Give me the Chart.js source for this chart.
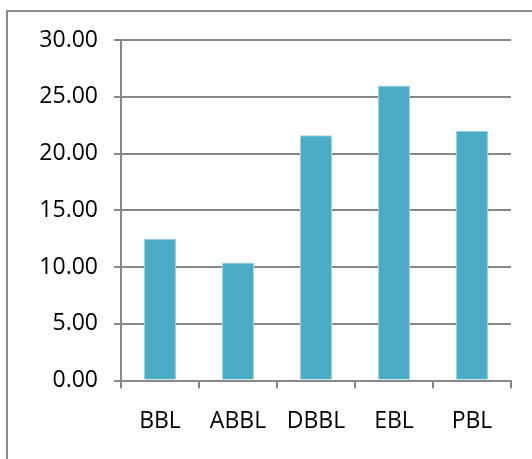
<!DOCTYPE html>
<html>
<head>
<meta charset="utf-8">
<script src="https://cdn.jsdelivr.net/npm/chart.js@4/dist/chart.umd.min.js"></script>
<style>
  html, body { margin: 0; padding: 0; background: #fff; overflow: hidden; }
  #wrap { width: 532px; height: 459px; position: relative; }
</style>
</head>
<body>
<div id="wrap"><canvas id="myChart" width="532" height="459"></canvas></div>
<script>
// chart data
const categories = ['BBL', 'ABBL', 'DBBL', 'EBL', 'PBL'];
const values = [12.5, 10.4, 21.6, 26.0, 22.0];
const yTicks = [0, 5, 10, 15, 20, 25, 30];

const gridColor = '#878787';

// outer frame, runs off the right and bottom edge like the original
const framePlugin = {
  id: 'frame',
  beforeDraw(chart) {
    const c = chart.ctx;
    c.save();
    c.fillStyle = '#fff';
    c.fillRect(0, 0, chart.width, chart.height);
    c.strokeStyle = '#8c8c8c';
    c.lineWidth = 2;
    c.strokeRect(7, 11, 700, 700);
    c.restore();
  }
};

const ctx = document.getElementById('myChart').getContext('2d');
const myChart = new Chart(ctx, {
  type: 'bar',
  data: {
    labels: categories,
    datasets: [{
      data: values,
      backgroundColor: '#4bacc6',
      borderColor: '#9fd3e1',
      borderWidth: {left: 1, right: 1, top: 1, bottom: 0},
      categoryPercentage: 0.41,
      barPercentage: 1.0,
    }]
  },
  plugins: [framePlugin],
  options: {
    responsive: false,
    animation: false,
    devicePixelRatio: 1,
    layout: {padding: {top: 40, right: 21, bottom: 0, left: 0}},
    plugins: {legend: {display: false}, tooltip: {enabled: false}},
    scales: {
      x: {
        offset: true,
        grid: {
          display: true,
          offset: true,
          drawOnChartArea: false,
          drawTicks: true,
          tickLength: 8,
          color: gridColor,
          lineWidth: 2,
        },
        border: {display: true, color: gridColor, width: 2},
        ticks: {
          color: '#000',
          font: {family: 'Open Sans', size: 23},
          padding: 19,
          maxRotation: 0,
        },
        afterFit(scale) { scale.height = 78.5; },
      },
      y: {
        min: 0,
        max: 30,
        afterBuildTicks(scale) { scale.ticks = yTicks.map(v => ({value: v})); },
        grid: {
          color: gridColor,
          lineWidth: 2,
          tickLength: 7,
          drawTicks: true,
        },
        border: {display: true, color: gridColor, width: 2},
        ticks: {
          color: '#000',
          font: {family: 'Open Sans', size: 23},
          padding: 16,
          callback: v => Number(v).toFixed(2),
        },
        afterFit(scale) { scale.width = 121; },
      }
    }
  }
});
</script>
</body>
</html>
